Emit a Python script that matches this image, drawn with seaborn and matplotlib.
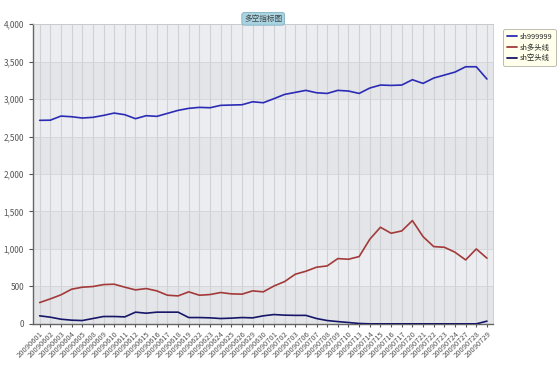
import pandas as pd
import seaborn as sns
import matplotlib.pyplot as plt
from matplotlib.ticker import FuncFormatter, MultipleLocator

dates = ["20090601", "20090602", "20090603", "20090604", "20090605", "20090608",
         "20090609", "20090610", "20090611", "20090612", "20090615", "20090616",
         "20090617", "20090618", "20090619", "20090622", "20090623", "20090624",
         "20090625", "20090626", "20090629", "20090630", "20090701", "20090702",
         "20090703", "20090706", "20090707", "20090708", "20090709", "20090710",
         "20090713", "20090714", "20090715", "20090716", "20090717", "20090720",
         "20090721", "20090722", "20090723", "20090724", "20090727", "20090728",
         "20090729"]

sh999999 = [2716, 2718, 2773, 2764, 2747, 2756, 2782, 2813, 2791, 2738, 2778,
            2769, 2809, 2849, 2876, 2889, 2884, 2916, 2920, 2924, 2964, 2951,
            3005, 3062, 3089, 3116, 3084, 3075, 3116, 3107, 3075, 3147, 3187,
            3182, 3187, 3258, 3209, 3280, 3320, 3360, 3431, 3431, 3267]
long_line = [284, 333, 387, 462, 489, 498, 524, 529, 489, 453, 471, 440, 382,
             373, 427, 382, 391, 418, 400, 396, 440, 427, 505, 564, 662, 702,
             756, 773, 871, 862, 898, 1129, 1289, 1209, 1240, 1378, 1164, 1031,
             1022, 956, 853, 1000, 876]
short_line = [107, 89, 62, 49, 44, 71, 98, 98, 93, 156, 142, 156, 156, 156, 84,
              84, 80, 71, 76, 84, 80, 107, 124, 116, 113, 113, 71, 44, 30, 18,
              5, 0, 0, 0, 0, 0, 0, 0, 0, 0, 0, 0, 36]

series_names = ["sh999999", "sh多头线", "sh空头线"]
colors = ["#2B2BB5", "#A33A3A", "#17176A"]

df = pd.DataFrame({
    "date": dates * 3,
    "value": sh999999 + long_line + short_line,
    "series": [series_names[0]] * len(dates) + [series_names[1]] * len(dates)
              + [series_names[2]] * len(dates),
})

sns.set_style("ticks")
plt.rcParams["font.family"] = ["Noto Sans CJK SC", "DejaVu Sans"]

fig = plt.figure(figsize=(5.6, 3.77), dpi=100)
ax = fig.add_axes([0.059, 0.141, 0.821, 0.795])
ax.set_facecolor("#ECEDF0")

# alternating horizontal bands
for lo in range(0, 4000, 1000):
    ax.axhspan(lo, lo + 500, color="#E4E5E8", zorder=0, lw=0)

sns.lineplot(data=df, x="date", y="value", hue="series", palette=colors,
             sort=False, linewidth=1.2, ax=ax, zorder=3)

ax.set_xlim(-0.62, len(dates) - 1 + 0.55)
ax.set_ylim(0, 4000)
ax.yaxis.set_major_locator(MultipleLocator(500))
ax.yaxis.set_major_formatter(FuncFormatter(lambda v, p: f"{int(v):,}"))
ax.set_xticks(range(len(dates)))
ax.set_xticklabels(dates, rotation=45, ha="right", rotation_mode="anchor",
                   fontsize=5.4, color="#555555")
ax.tick_params(axis="y", labelsize=5.9, labelcolor="#555555", length=3,
               color="#555555")
ax.tick_params(axis="x", length=2.5, color="#555555", pad=2)
ax.set_xlabel("")
ax.set_ylabel("")

ax.grid(axis="x", color="#D0D1D4", lw=0.8, zorder=1)
ax.grid(axis="y", color="#D3D4D7", lw=0.6, zorder=1)
ax.set_axisbelow(True)

for side in ["top", "right"]:
    ax.spines[side].set_color("#C8C8C8")
    ax.spines[side].set_linewidth(0.6)
for side in ["left", "bottom"]:
    ax.spines[side].set_color("#666666")
    ax.spines[side].set_linewidth(1.0)

leg = ax.legend(loc="upper left", bbox_to_anchor=(1.015, 0.995), fontsize=5.3,
                handlelength=1.4, handletextpad=0.3, labelspacing=0.35,
                borderpad=0.5, frameon=True, fancybox=True)
leg.get_frame().set_facecolor("#FFFFE8")
leg.get_frame().set_edgecolor("#A0A090")
leg.get_frame().set_linewidth(0.6)
for line in leg.get_lines():
    line.set_linewidth(1.3)

fig.text(0.47, 0.95, "多空指标图", ha="center", va="center", fontsize=5.5,
         color="#444444",
         bbox=dict(boxstyle="round,pad=0.3", facecolor="#A8D3E0",
                   edgecolor="#7FAFC0", lw=0.6))

plt.savefig("out.png", dpi=100)
